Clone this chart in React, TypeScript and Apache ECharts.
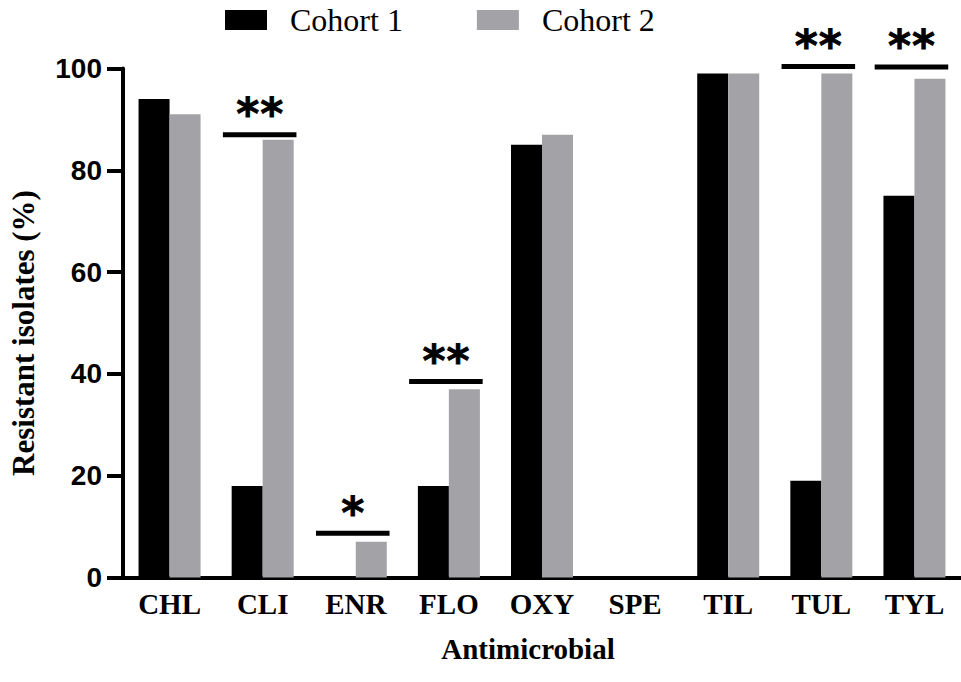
import React, { useEffect, useRef } from "react";
import * as echarts from "echarts";

const categories = ["CHL", "CLI", "ENR", "FLO", "OXY", "SPE", "TIL", "TUL", "TYL"];
const cohort1 = [94, 18, 0, 18, 85, 0, 99, 19, 75];
const cohort2 = [91, 86, 7, 37, 87, 0, 99, 99, 98];
// significance bars: [category index, bar level (%), stars]
const sigBars: [number, number, string][] = [
  [1, 87, "**"],
  [2, 8.7, "*"],
  [3, 38.5, "**"],
  [7, 100.4, "**"],
  [8, 100.3, "**"],
];
const yTicks = [0, 20, 40, 60, 80, 100];

const SERIF = '"Liberation Serif", "Times New Roman", serif';
const SANS = '"Liberation Sans Narrow", "Liberation Sans", Arial, sans-serif';

export default function App() {
  const ref = useRef<HTMLDivElement>(null);
  useEffect(() => {
    if (!ref.current) return;
    const chart = echarts.init(ref.current, undefined, { renderer: "svg" });
    chart.setOption({
      animation: false,
      backgroundColor: "#ffffff",
      legend: {
        top: -1,
        left: 220,
        itemWidth: 42,
        itemHeight: 20,
        itemGap: 74,
        icon: "rect",
        textStyle: { fontFamily: SERIF, fontSize: 32, color: "#000", padding: [0, 0, 0, 18] },
        data: ["Cohort 1", "Cohort 2"],
      },
      grid: { left: 123, top: 68.5, width: 842.4, height: 509 },
      xAxis: {
        type: "category",
        data: categories,
        name: "Antimicrobial",
        nameLocation: "middle",
        nameGap: 57,
        nameTextStyle: { fontFamily: SERIF, fontWeight: "bold", fontSize: 29, color: "#000", padding: [0, 28, 0, 0] },
        axisLine: { lineStyle: { color: "#000", width: 4 } },
        axisTick: { alignWithLabel: true, length: 13, lineStyle: { color: "#000", width: 4 } },
        axisLabel: { fontFamily: SERIF, fontWeight: "bold", fontSize: 29, color: "#000", margin: 12 },
      },
      yAxis: {
        type: "value",
        min: 0,
        max: 100,
        interval: 20,
        name: "Resistant isolates (%)",
        nameLocation: "middle",
        nameGap: 84,
        nameTextStyle: { fontFamily: SERIF, fontWeight: "bold", fontSize: 31, color: "#000", padding: [0, 20, 0, 0] },
        axisLine: { show: true, lineStyle: { color: "#000", width: 4 } },
        axisTick: { show: true, length: 16, lineStyle: { color: "#000", width: 4 } },
        axisLabel: {
          fontFamily: SANS,
          fontWeight: "bold",
          fontSize: 28,
          color: "#000",
          margin: 21,
          formatter: (v: number) => (yTicks.includes(v) ? String(v) : ""),
        },
        splitLine: { show: false },
      },
      series: [
        {
          name: "Cohort 1",
          type: "bar",
          data: cohort1,
          barWidth: 31,
          barGap: "0%",
          itemStyle: { color: "#000000" },
        },
        {
          name: "Cohort 2",
          type: "bar",
          data: cohort2,
          barWidth: 31,
          barGap: "0%",
          itemStyle: { color: "#a3a2a7" },
        },
        {
          type: "custom",
          clip: false,
          silent: true,
          data: sigBars,
          renderItem: (params: any, api: any) => {
            const p = api.coord([api.value(0), api.value(1)]);
            const band = api.size([1, 0])[0];
            const half = band * 0.395;
            const cx = p[0] - 3;
            const stars = String(sigBars[params.dataIndex][2]);
            const n = stars.length;
            const children: any[] = [
              {
                type: "line",
                shape: { x1: cx - half, y1: p[1], x2: cx + half, y2: p[1] },
                style: { stroke: "#000", lineWidth: 5 },
              },
            ];
            for (let i = 0; i < n; i++) {
              const off = (i - (n - 1) / 2) * 24;
              children.push({
                type: "text",
                x: cx + off,
                y: p[1] + 1,
                style: {
                  text: "*",
                  fontFamily: '"DejaVu Sans", sans-serif',
                  fontWeight: "bold",
                  fontSize: 44,
                  fill: "#000",
                  stroke: "#000",
                  lineWidth: 0.8,
                  align: "center",
                  verticalAlign: "bottom",
                },
              });
            }
            return { type: "group", children };
          },
        },
      ],
    });
    return () => chart.dispose();
  }, []);
  return <div ref={ref} style={{ width: 961, height: 682, position: "absolute", left: 0, top: 0 }} />;
}
